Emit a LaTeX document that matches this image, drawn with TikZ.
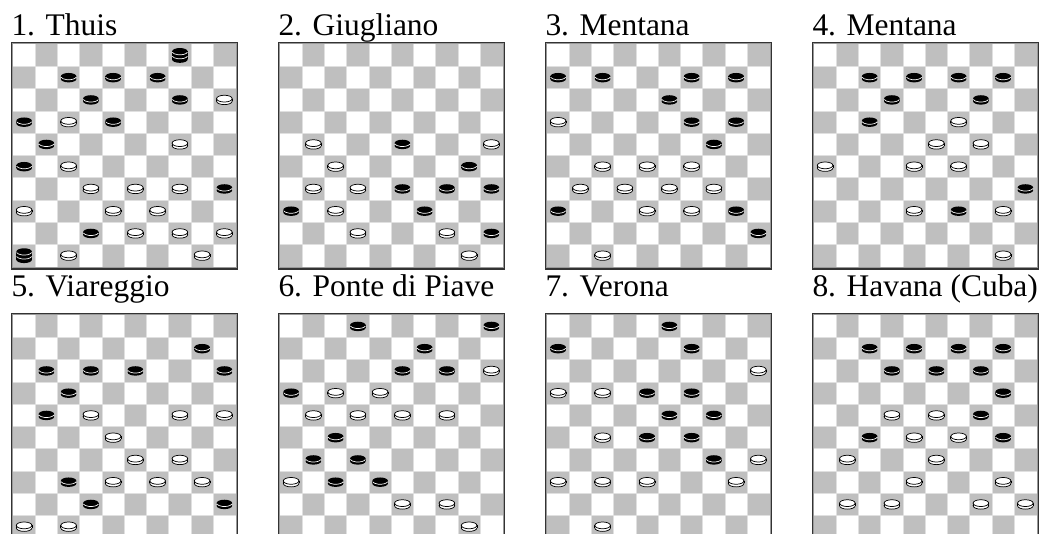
\documentclass[tikz,border=0pt]{standalone}
\usepackage{fontspec}
\setmainfont{Liberation Serif}
\def\sq{22.25}
\begin{document}
\begin{tikzpicture}[x=0.75pt,y=-0.75pt,
		darksq/.style={fill=color1},
		gridline/.style={draw=color2,line width=0.5},
		boardlabel/.style={anchor=base west,inner sep=0pt,outer sep=0pt,font=\fontsize{23.6}{28}\selectfont},
		whiteman/.pic={
			\draw[line width=0.55,fill=white] (0,1.3) ellipse (7.8 and 3.4);
			\fill[white] (-7.8,-1.3) rectangle (7.8,1.3);
			\draw[line width=0.55] (-7.8,-1.3) -- (-7.8,1.3) (7.8,-1.3) -- (7.8,1.3);
			\draw[line width=0.55,fill=white] (0,-1.3) ellipse (7.8 and 3.4);
		},
		blackman/.pic={
			\fill (0,1.3) ellipse (7.8 and 3.4);
			\fill (-7.8,-1.3) rectangle (7.8,1.3);
			\fill (0,-1.3) ellipse (7.8 and 3.4);
			\draw[white,line width=0.5] ({7.8*cos(15)},{-1.3+3.4*sin(15)}) arc (15:165:7.8 and 3.4);
		},
		blackking/.pic={
			\fill (0,4) ellipse (7.8 and 3.4);
			\fill (-7.8,-4) rectangle (7.8,4);
			\fill (0,-4) ellipse (7.8 and 3.4);
			\draw[white,line width=0.5] ({7.8*cos(15)},{-4+3.4*sin(15)}) arc (15:165:7.8 and 3.4);
			\draw[white,line width=0.5] ({7.8*cos(15)},{3.4*sin(15)}) arc (15:165:7.8 and 3.4);
		}]
	\definecolor{color1}{gray}{0.75}
	\definecolor{color2}{gray}{0.88}
	\definecolor{color3}{gray}{0.6}
	\definecolor{color4}{gray}{0.2}
	\clip (0,0) rectangle (1043,533);
	\fill[white] (0,0) rectangle (1043,533);
	%% Boards ------
	\foreach \k/\j/\txt [count=\n] in {0/0/{1. Thuis},1/0/{2. Giugliano},2/0/{3. Mentana},3/0/{4. Mentana},
			0/1/{5. Viareggio},1/1/{6. Ponte di Piave},2/1/{7. Verona},3/1/{8. Havana (Cuba)}}{
		\begin{scope}[shift={({13+267*\k},{44.3+271*\j})}]
			\foreach \r in {1,...,10}
				\foreach \c in {1,3,5,7,9}
					\fill[darksq] ({(\c-1+mod(\r,2))*\sq},{(\r-1)*\sq}) rectangle ++(\sq,\sq);
			\foreach \i in {1,...,9}
				\draw[gridline] ({\i*\sq},0) -- ({\i*\sq},{10*\sq}) (0,{\i*\sq}) -- ({10*\sq},{\i*\sq});
			\draw[color3,line width=0.8] (-0.6,-0.6) rectangle ({10*\sq+0.6},{10*\sq+0.6});
			\draw[color4,line width=0.8] (-1.8,-1.8) rectangle ({10*\sq+1.8},{10*\sq+1.8});
			\draw[color4,line width=1.2] ({10*\sq+2},-2) -- ({10*\sq+2},{10*\sq+2}) -- (-2,{10*\sq+2});
			\node[boardlabel] (lbl\n) at (-1.5,{-9.3-10*\j}) {\txt};
		\end{scope}
	}
	%% Pieces 1 ------
	\begin{scope}[shift={(13,44.3)}]
		\foreach \r/\c in {2/3,2/5,2/7,3/4,3/8,4/1,4/5,5/2,6/1,7/10,9/4}
			\pic at ({(\c-0.5)*\sq},{(\r-0.5)*\sq}) {blackman};
		\foreach \r/\c in {1/8,10/1}
			\pic at ({(\c-0.5)*\sq},{(\r-0.5)*\sq}) {blackking};
		\foreach \r/\c in {3/10,4/3,5/8,6/3,7/4,7/6,7/8,8/1,8/5,8/7,9/6,9/8,9/10,10/3,10/9}
			\pic at ({(\c-0.5)*\sq},{(\r-0.5)*\sq}) {whiteman};
	\end{scope}
	%% Pieces 2 ------
	\begin{scope}[shift={(280,44.3)}]
		\foreach \r/\c in {5/6,6/9,7/6,7/8,7/10,8/1,8/7,9/10}
			\pic at ({(\c-0.5)*\sq},{(\r-0.5)*\sq}) {blackman};
		\foreach \r/\c in {5/2,5/10,6/3,7/2,7/4,8/3,9/4,9/8,10/9}
			\pic at ({(\c-0.5)*\sq},{(\r-0.5)*\sq}) {whiteman};
	\end{scope}
	%% Pieces 3 ------
	\begin{scope}[shift={(547,44.3)}]
		\foreach \r/\c in {2/1,2/3,2/7,2/9,3/6,4/7,4/9,5/8,8/1,8/9,9/10}
			\pic at ({(\c-0.5)*\sq},{(\r-0.5)*\sq}) {blackman};
		\foreach \r/\c in {4/1,6/3,6/5,6/7,7/2,7/4,7/6,7/8,8/5,8/7,10/3}
			\pic at ({(\c-0.5)*\sq},{(\r-0.5)*\sq}) {whiteman};
	\end{scope}
	%% Pieces 4 ------
	\begin{scope}[shift={(814,44.3)}]
		\foreach \r/\c in {2/3,2/5,2/7,2/9,3/4,3/8,4/3,7/10,8/7}
			\pic at ({(\c-0.5)*\sq},{(\r-0.5)*\sq}) {blackman};
		\foreach \r/\c in {4/7,5/6,5/8,6/1,6/5,6/7,8/5,8/9,10/9}
			\pic at ({(\c-0.5)*\sq},{(\r-0.5)*\sq}) {whiteman};
	\end{scope}
	%% Pieces 5 ------
	\begin{scope}[shift={(13,315.3)}]
		\foreach \r/\c in {2/9,3/2,3/4,3/6,3/10,4/3,5/2,8/3,9/4,9/10}
			\pic at ({(\c-0.5)*\sq},{(\r-0.5)*\sq}) {blackman};
		\foreach \r/\c in {5/4,5/8,5/10,6/5,7/6,7/8,8/5,8/7,8/9,10/1,10/3}
			\pic at ({(\c-0.5)*\sq},{(\r-0.5)*\sq}) {whiteman};
	\end{scope}
	%% Pieces 6 ------
	\begin{scope}[shift={(280,315.3)}]
		\foreach \r/\c in {1/4,1/10,2/7,3/6,3/8,4/1,6/3,7/2,7/4,8/3,8/5}
			\pic at ({(\c-0.5)*\sq},{(\r-0.5)*\sq}) {blackman};
		\foreach \r/\c in {3/10,4/3,4/5,5/2,5/4,5/6,5/8,8/1,9/6,9/8,10/9}
			\pic at ({(\c-0.5)*\sq},{(\r-0.5)*\sq}) {whiteman};
	\end{scope}
	%% Pieces 7 ------
	\begin{scope}[shift={(547,315.3)}]
		\foreach \r/\c in {1/6,2/1,2/7,4/5,4/7,5/6,5/8,6/5,6/7,7/8}
			\pic at ({(\c-0.5)*\sq},{(\r-0.5)*\sq}) {blackman};
		\foreach \r/\c in {3/10,4/1,4/3,6/3,7/10,8/1,8/3,8/5,8/9,10/3}
			\pic at ({(\c-0.5)*\sq},{(\r-0.5)*\sq}) {whiteman};
	\end{scope}
	%% Pieces 8 ------
	\begin{scope}[shift={(814,315.3)}]
		\foreach \r/\c in {2/3,2/5,2/7,2/9,3/4,3/6,3/8,4/9,5/8,6/3,6/9}
			\pic at ({(\c-0.5)*\sq},{(\r-0.5)*\sq}) {blackman};
		\foreach \r/\c in {5/4,5/6,6/5,6/7,7/2,7/6,8/5,8/9,9/2,9/4,9/8,9/10}
			\pic at ({(\c-0.5)*\sq},{(\r-0.5)*\sq}) {whiteman};
	\end{scope}
\end{tikzpicture}
\end{document}
